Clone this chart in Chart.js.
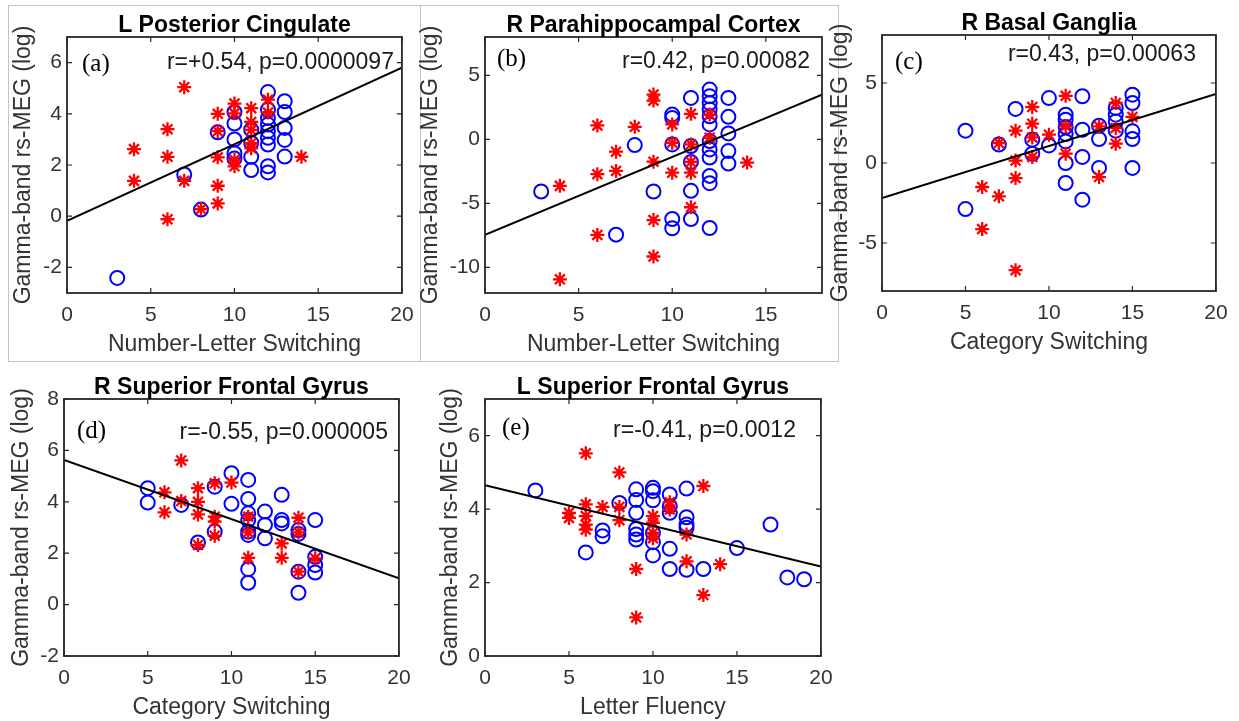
<!DOCTYPE html>
<html>
<head>
<meta charset="utf-8">
<script src="https://cdn.jsdelivr.net/npm/chart.js@4.4.1/dist/chart.umd.min.js"></script>
<style>
  html, body { margin: 0; padding: 0; background: #fff; }
  body { width: 1239px; height: 721px; position: relative; overflow: hidden; }
  canvas { position: absolute; }
  .frame { position: absolute; border: 1px solid #c4c4c4; box-sizing: border-box; }
</style>
</head>
<body>
<div class="frame" style="left:8px;top:5px;width:413px;height:357px"></div>
<div class="frame" style="left:420px;top:5px;width:419px;height:357px"></div>
<canvas id="pa"></canvas>
<canvas id="pb"></canvas>
<canvas id="pc"></canvas>
<canvas id="pd"></canvas>
<canvas id="pe"></canvas>
<script>
// (a) L Posterior Cingulate
const aStarX = [4, 4, 6, 6, 6, 7, 7, 8, 9, 9, 9, 9, 9, 10, 10, 10, 10, 11, 11, 11, 11, 11, 12, 12, 14];
const aStarY = [2.62, 1.38, 3.4, 2.32, -0.12, 5.04, 1.38, 0.28, 4.0, 3.32, 2.3, 1.19, 0.5, 4.4, 4.02, 2.2, 1.95, 4.22, 3.68, 3.37, 2.85, 2.65, 4.55, 4.05, 2.32];
const aCircX = [3, 7, 8, 9, 10, 10, 10, 10, 10, 11, 11, 11, 11, 12, 12, 12, 12, 12, 12, 12, 12, 12, 13, 13, 13, 13, 13];
const aCircY = [-2.41, 1.63, 0.26, 3.28, 4.07, 3.62, 3.0, 2.46, 2.25, 3.38, 2.87, 2.32, 1.8, 4.85, 4.16, 3.84, 3.58, 3.32, 3.06, 2.8, 1.95, 1.71, 4.49, 4.07, 3.45, 2.98, 2.33];
const aFitX = [0, 20];
const aFitY = [-0.18, 5.8];
const aXTicks = [0, 5, 10, 15, 20];
const aYTicks = [-2, 0, 2, 4, 6];

// (b) R Parahippocampal Cortex
const bStarX = [4, 4, 6, 6, 6, 7, 7, 8, 9, 9, 9, 9, 9, 10, 10, 10, 11, 11, 11, 11, 11, 12, 12, 14];
const bStarY = [-3.63, -10.93, 1.09, -2.72, -7.46, -0.96, -2.46, 0.98, 3.5, 3.03, -1.74, -6.3, -9.15, 1.17, -0.26, -2.6, 2.0, -0.39, -1.76, -2.6, -5.3, 1.94, 0.13, -1.81];
const bCircX = [3, 7, 8, 9, 10, 10, 10, 10, 10, 11, 11, 11, 11, 11, 12, 12, 12, 12, 12, 12, 12, 12, 12, 12, 12, 12, 13, 13, 13, 13, 13];
const bCircY = [-4.07, -7.44, -0.44, -4.07, 1.94, 1.68, -0.39, -6.22, -6.94, 3.24, -0.52, -1.76, -4.02, -6.22, 3.89, 3.37, 2.85, 2.33, 1.81, 1.17, -0.13, -0.78, -1.42, -2.85, -3.42, -6.92, 3.24, 1.76, 0.47, -0.91, -1.89];
const bFitX = [0, 18];
const bFitY = [-7.46, 3.5];
const bXTicks = [0, 5, 10, 15];
const bYTicks = [-10, -5, 0, 5];

// (c) R Basal Ganglia
const cStarX = [6, 6, 7, 7, 8, 8, 8, 8, 9, 9, 9, 9, 10, 11, 11, 11, 13, 13, 14, 14, 14, 15];
const cStarY = [-1.5, -4.13, 1.25, -2.08, 2.02, 0.15, -0.94, -6.7, 3.5, 2.46, 1.6, 0.38, 1.77, 4.2, 2.29, 0.58, 2.29, -0.88, 3.75, 2.19, 1.21, 2.88];
const cCircX = [5, 5, 7, 8, 9, 9, 10, 10, 11, 11, 11, 11, 11, 11, 11, 12, 12, 12, 12, 13, 13, 13, 14, 14, 14, 14, 15, 15, 15, 15, 15];
const cCircY = [2.02, -2.88, 1.15, 3.38, 1.46, 0.58, 4.06, 1.1, 3.02, 2.71, 2.25, 1.81, 1.35, 0, -1.25, 4.17, 2.08, 0.38, -2.29, 2.33, 1.5, -0.31, 3.44, 3.02, 2.6, 2.02, 4.27, 3.75, 1.98, 1.5, -0.31];
const cFitX = [0, 20];
const cFitY = [-2.19, 4.31];
const cXTicks = [0, 5, 10, 15, 20];
const cYTicks = [-5, 0, 5];

// (d) R Superior Frontal Gyrus
const dStarX = [6, 6, 7, 7, 8, 8, 8, 8, 9, 9, 9, 9, 10, 11, 11, 11, 13, 13, 14, 14, 14, 15];
const dStarY = [4.37, 3.59, 5.61, 4.03, 4.53, 4.0, 3.51, 2.32, 4.72, 3.42, 3.23, 2.68, 4.75, 3.42, 2.81, 1.82, 2.38, 1.82, 3.38, 2.81, 1.28, 1.8];
const dCircX = [5, 5, 7, 8, 9, 9, 10, 10, 11, 11, 11, 11, 11, 11, 11, 11, 12, 12, 12, 13, 13, 13, 14, 14, 14, 14, 15, 15, 15, 15];
const dCircY = [4.53, 3.97, 3.88, 2.42, 4.59, 2.84, 5.11, 3.92, 4.85, 4.11, 3.55, 3.29, 2.84, 2.71, 1.38, 0.85, 3.62, 3.1, 2.58, 4.27, 3.29, 3.16, 2.9, 2.75, 1.28, 0.46, 3.29, 1.86, 1.54, 1.25];
const dFitX = [0, 20];
const dFitY = [5.63, 1.02];
const dXTicks = [0, 5, 10, 15, 20];
const dYTicks = [-2, 0, 2, 4, 6, 8];

// (e) L Superior Frontal Gyrus
const eStarX = [5, 5, 6, 6, 6, 6, 6, 7, 8, 8, 8, 9, 9, 10, 10, 10, 10, 11, 11, 12, 12, 13, 13, 14];
const eStarY = [3.9, 3.76, 5.52, 4.13, 3.81, 3.58, 3.44, 4.06, 5.0, 4.06, 3.7, 2.37, 1.05, 3.81, 3.63, 3.35, 3.21, 4.19, 3.99, 3.31, 2.58, 4.63, 1.66, 2.5];
const eCircX = [3, 6, 7, 7, 8, 9, 9, 9, 9, 9, 9, 10, 10, 10, 10, 10, 10, 11, 11, 11, 11, 11, 12, 12, 12, 12, 12, 13, 15, 17, 18, 19];
const eCircY = [4.51, 2.82, 3.42, 3.26, 4.17, 4.54, 4.25, 3.9, 3.46, 3.31, 3.17, 4.58, 4.49, 4.24, 3.35, 3.1, 2.74, 4.4, 4.08, 3.9, 2.92, 2.37, 4.56, 3.78, 3.58, 3.49, 2.35, 2.37, 2.94, 3.58, 2.14, 2.09];
const eFitX = [0, 20];
const eFitY = [4.65, 2.44];
const eXTicks = [0, 5, 10, 15, 20];
const eYTicks = [0, 2, 4, 6];

const yLabel = 'Gamma-band rs-MEG (log)';
const SANS = '"Liberation Sans", Arial, sans-serif';
const SERIF = '"Liberation Serif", "Times New Roman", serif';

const zip = (xs, ys) => xs.map((x, i) => ({ x, y: ys[i] }));

// frame box with inward ticks on all four sides, plus panel texts
const matlabAxes = {
  id: 'matlabAxes',
  afterDatasetsDraw(chart, args, o) {
    const { ctx, chartArea: a, scales: { x, y } } = chart;
    ctx.save();
    ctx.strokeStyle = '#262626';
    ctx.lineWidth = 1.2;
    ctx.beginPath();
    x.ticks.forEach(t => {
      const px = x.getPixelForValue(t.value);
      ctx.moveTo(px, a.bottom); ctx.lineTo(px, a.bottom - 5);
      ctx.moveTo(px, a.top); ctx.lineTo(px, a.top + 5);
    });
    y.ticks.forEach(t => {
      const py = y.getPixelForValue(t.value);
      ctx.moveTo(a.left, py); ctx.lineTo(a.left + 5, py);
      ctx.moveTo(a.right, py); ctx.lineTo(a.right - 5, py);
    });
    ctx.stroke();
    ctx.lineWidth = 1.8;
    ctx.strokeRect(a.left, a.top, a.right - a.left, a.bottom - a.top);

    ctx.fillStyle = '#000';
    ctx.textBaseline = 'middle';
    ctx.textAlign = 'center';
    ctx.font = 'bold 23px ' + SANS;
    ctx.fillText(o.title, (a.left + a.right) / 2, a.top - 11);

    ctx.textAlign = 'left';
    ctx.font = '25px ' + SERIF;
    ctx.fillText(o.tag, a.left + o.tagX, a.top + o.tagY);

    ctx.textAlign = 'right';
    ctx.fillStyle = '#1a1a1a';
    ctx.font = '23px ' + SANS;
    ctx.fillText(o.stat, a.right - o.statX, a.top + o.statY);
    ctx.restore();
  }
};

function makePanel(id, g, p) {
  const canvas = document.getElementById(id);
  const w = g.R - g.L + 90, h = g.B - g.T + 110;
  canvas.width = w; canvas.height = h;
  canvas.style.left = (g.L - 70) + 'px';
  canvas.style.top = (g.T - 40) + 'px';
  canvas.style.width = w + 'px';
  canvas.style.height = h + 'px';

  new Chart(canvas.getContext('2d'), {
    type: 'scatter',
    data: {
      datasets: [
        {
          data: zip(p.starX, p.starY),
          pointStyle: 'star', pointRadius: 7, pointBorderWidth: 2.3,
          borderColor: '#ff0000', backgroundColor: '#ff0000', order: 1
        },
        {
          data: zip(p.circX, p.circY),
          pointStyle: 'circle', pointRadius: 7, pointBorderWidth: 2,
          borderColor: '#0000ff', backgroundColor: 'rgba(0,0,0,0)', order: 2
        },
        {
          type: 'line',
          data: zip(p.fitX, p.fitY),
          borderColor: '#000', borderWidth: 2, pointRadius: 0, order: 0
        }
      ]
    },
    options: {
      responsive: false,
      animation: false,
      devicePixelRatio: 1,
      layout: { padding: { top: 40, right: 20, left: 0, bottom: 0 } },
      plugins: {
        legend: { display: false },
        tooltip: { enabled: false },
        matlabAxes: { title: p.title, tag: p.tag, stat: p.stat, tagX: g.tagX, tagY: g.tagY, statX: g.statX, statY: g.statY }
      },
      scales: {
        x: {
          type: 'linear', min: p.xMin, max: p.xMax,
          grid: { display: false, drawTicks: false },
          border: { display: false },
          afterBuildTicks: s => { s.ticks = p.xTicks.map(v => ({ value: v })); },
          afterFit: s => { s.height = 70; },
          ticks: { autoSkip: false, maxRotation: 0, padding: 9.4, color: '#333', font: { family: SANS, size: 21 } },
          title: { display: true, text: p.xLabel, color: '#333', padding: { top: 0, bottom: 4.7 }, font: { family: SANS, size: 23 } }
        },
        y: {
          type: 'linear', min: p.yMin, max: p.yMax,
          grid: { display: false, drawTicks: false },
          border: { display: false },
          afterBuildTicks: s => { s.ticks = p.yTicks.map(v => ({ value: v })); },
          afterFit: s => { s.width = 70; },
          ticks: { autoSkip: false, padding: 5, color: '#333', font: { family: SANS, size: 21 } },
          title: { display: true, text: yLabel, color: '#333', padding: { top: g.yPad, bottom: 0 }, font: { family: SANS, size: 23 } }
        }
      }
    },
    plugins: [matlabAxes]
  });
}

makePanel('pa', { L: 67, T: 37, R: 403, B: 293, yPad: 13.2, tagX: 15, tagY: 27, statX: 8, statY: 26 }, {
  title: 'L Posterior Cingulate', tag: '(a)', stat: 'r=+0.54, p=0.0000097', xLabel: 'Number-Letter Switching',
  starX: aStarX, starY: aStarY, circX: aCircX, circY: aCircY, fitX: aFitX, fitY: aFitY,
  xMin: 0, xMax: 20, yMin: -3, yMax: 7, xTicks: aXTicks, yTicks: aYTicks
});
makePanel('pb', { L: 485, T: 37, R: 822, B: 293, yPad: 2.2, tagX: 12, tagY: 22, statX: 12, statY: 25 }, {
  title: 'R Parahippocampal Cortex', tag: '(b)', stat: 'r=0.42, p=0.00082', xLabel: 'Number-Letter Switching',
  starX: bStarX, starY: bStarY, circX: bCircX, circY: bCircY, fitX: bFitX, fitY: bFitY,
  xMin: 0, xMax: 18, yMin: -12, yMax: 8, xTicks: bXTicks, yTicks: bYTicks
});
makePanel('pc', { L: 882, T: 35, R: 1217, B: 291, yPad: 15.2, tagX: 13, tagY: 27, statX: 20, statY: 20 }, {
  title: 'R Basal Ganglia', tag: '(c)', stat: 'r=0.43, p=0.00063', xLabel: 'Category Switching',
  starX: cStarX, starY: cStarY, circX: cCircX, circY: cCircY, fitX: cFitX, fitY: cFitY,
  xMin: 0, xMax: 20, yMin: -8, yMax: 8, xTicks: cXTicks, yTicks: cYTicks
});
makePanel('pd', { L: 64, T: 399, R: 400, B: 656, yPad: 14.2, tagX: 13, tagY: 32, statX: 11, statY: 34 }, {
  title: 'R Superior Frontal Gyrus', tag: '(d)', stat: 'r=-0.55, p=0.000005', xLabel: 'Category Switching',
  starX: dStarX, starY: dStarY, circX: dCircX, circY: dCircY, fitX: dFitX, fitY: dFitY,
  xMin: 0, xMax: 20, yMin: -2, yMax: 8, xTicks: dXTicks, yTicks: dYTicks
});
makePanel('pe', { L: 485, T: 399, R: 822, B: 656, yPad: 22.2, tagX: 17, tagY: 29, statX: 25, statY: 32 }, {
  title: 'L Superior Frontal Gyrus', tag: '(e)', stat: 'r=-0.41, p=0.0012', xLabel: 'Letter Fluency',
  starX: eStarX, starY: eStarY, circX: eCircX, circY: eCircY, fitX: eFitX, fitY: eFitY,
  xMin: 0, xMax: 20, yMin: 0, yMax: 7, xTicks: eXTicks, yTicks: eYTicks
});
</script>
</body>
</html>
